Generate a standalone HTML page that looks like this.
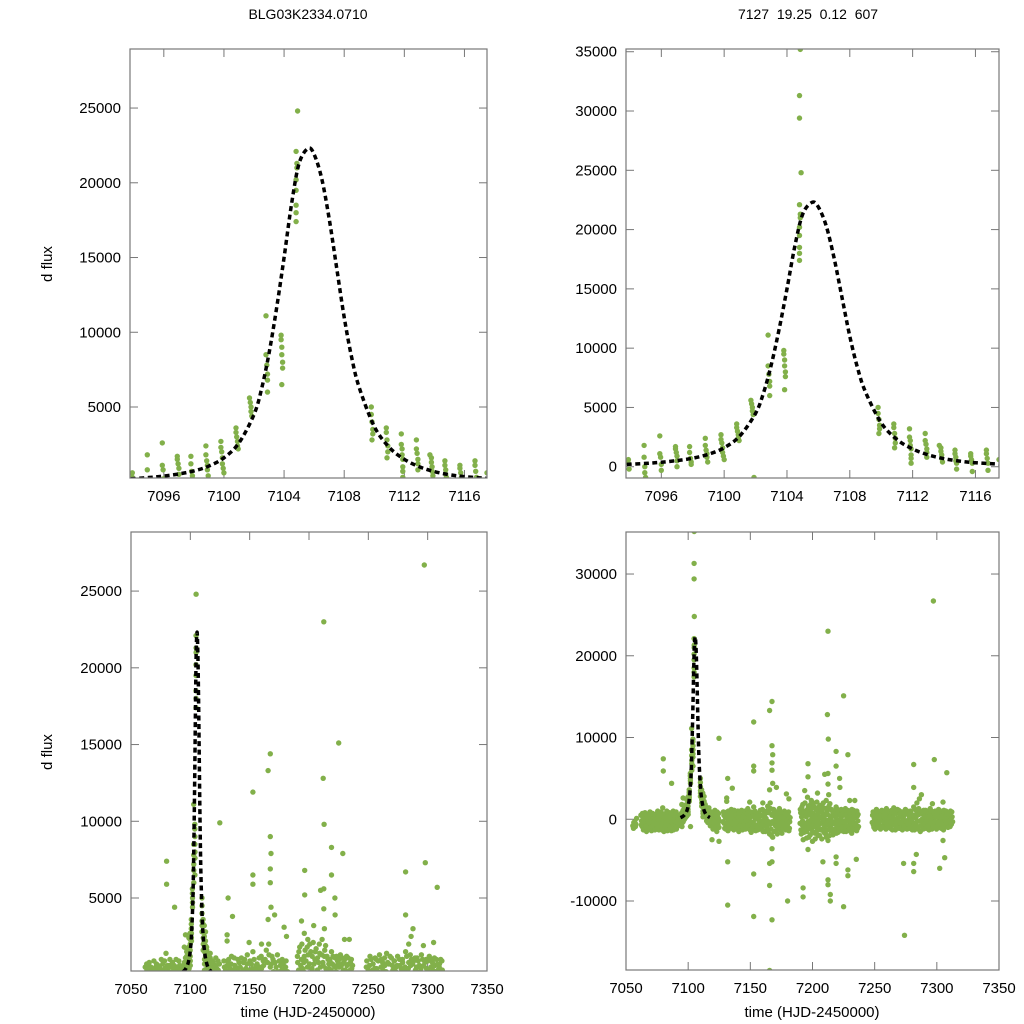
<!DOCTYPE html>
<html><head><meta charset="utf-8"><style>
html,body{margin:0;padding:0;background:#fff;width:1024px;height:1024px;overflow:hidden;}
svg{display:block;font-family:"Liberation Sans",sans-serif;}
</style></head><body>
<svg id="chart" width="1024" height="1024" viewBox="0 0 1024 1024" xmlns="http://www.w3.org/2000/svg">
<rect width="1024" height="1024" fill="#fff"/>
<text x="308" y="19" font-size="14" text-anchor="middle">BLG03K2334.0710</text>
<text x="808" y="19" font-size="14" text-anchor="middle" xml:space="preserve">7127  19.25  0.12  607</text>
<text x="52" y="264" font-size="15" text-anchor="middle" transform="rotate(-90 52 264)">d flux</text>
<text x="52" y="752" font-size="15" text-anchor="middle" transform="rotate(-90 52 752)">d flux</text>
<text x="308" y="1017" font-size="15" text-anchor="middle">time (HJD-2450000)</text>
<text x="812" y="1017" font-size="15" text-anchor="middle">time (HJD-2450000)</text>
</svg>
<script>
// ---- data ----
const zoomTicksX = [7096, 7100, 7104, 7108, 7112, 7116];
const fullTicksX = [7050, 7100, 7150, 7200, 7250, 7300, 7350];
const ticksYTopLeft = [5000, 10000, 15000, 20000, 25000];
const ticksYTopRight = [0, 5000, 10000, 15000, 20000, 25000, 30000, 35000];
const ticksYBotLeft = [5000, 10000, 15000, 20000, 25000];
const ticksYBotRight = [-10000, 0, 10000, 20000, 30000];
const modelT = [7093.8,7095,7096,7097,7098,7099,7100,7101,7102,7102.5,7103,7103.5,7104,7104.5,7105,7105.6,7106,7106.5,7107,7107.5,7108,7108.5,7109,7110,7111,7112,7113,7114,7115,7116,7117.5];
const modelF = [200,280,380,520,720,1050,1600,2600,4500,6200,8600,11600,15000,18600,21300,22300,21900,20300,17600,14300,11000,8300,6300,3700,2300,1500,1000,680,470,340,220];
const peakObs = [
[7093.9,600],[7093.9,300],[7093.95,-200],[7094.9,1800],[7094.9,800],[7094.95,0],[7094.95,-500],[7095,-900],
[7095.9,2600],[7095.9,1100],[7095.95,800],[7096,200],[7096,-300],
[7096.9,1700],[7096.9,1500],[7096.95,1200],[7097,900],[7097,500],[7097,0],
[7097.8,1700],[7097.8,1200],[7097.85,700],[7097.9,400],[7097.9,200],
[7098.8,2400],[7098.8,1800],[7098.85,1400],[7098.9,1100],[7098.9,800],[7098.95,400],
[7099.8,2700],[7099.8,2300],[7099.85,2000],[7099.9,1600],[7099.9,1200],[7099.95,900],[7100,600],
[7100.8,3600],[7100.8,3300],[7100.85,3000],[7100.9,2700],[7100.9,2400],[7100.95,2200],
[7101.7,5600],[7101.75,5300],[7101.8,5000],[7101.8,4700],[7101.85,4400],[7101.9,-900],
[7102.8,11100],[7102.8,8500],[7102.85,7800],[7102.9,7200],[7102.9,6800],[7102.9,6000],
[7103.8,9800],[7103.8,9500],[7103.85,9000],[7103.85,8500],[7103.9,8000],[7103.9,7600],[7103.85,6500],
[7104.85,35200],[7104.8,31300],[7104.8,29400],[7104.9,24800],[7104.8,22100],[7104.85,21300],[7104.85,21000],[7104.8,20200],[7104.8,19500],[7104.8,18500],[7104.8,18000],[7104.8,17400],
[7109.8,5000],[7109.8,4500],[7109.85,4000],[7109.9,3500],[7109.9,3200],[7109.85,2800],
[7110.8,3600],[7110.8,3300],[7110.85,2800],[7110.9,2400],[7110.9,2000],[7110.85,1600],
[7111.8,3200],[7111.8,2500],[7111.85,2200],[7111.85,1800],[7111.9,1500],[7111.9,1000],[7111.9,700],[7111.9,300],
[7112.8,2800],[7112.8,2200],[7112.85,1900],[7112.9,1500],[7112.9,1200],[7112.9,800],
[7113.7,1800],[7113.8,1600],[7113.8,1300],[7113.85,1000],[7113.85,700],[7113.9,400],
[7114.7,1400],[7114.7,1100],[7114.75,800],[7114.75,500],[7114.8,300],[7114.8,-200],
[7115.7,1100],[7115.7,900],[7115.75,600],[7115.8,300],[7115.8,-400],
[7116.7,1400],[7116.7,1100],[7116.75,700],[7116.8,300],[7116.8,-300]];
const bandObs = [
[7055.5,-800],[7056,-1100],[7057,-300],[7058,-600],[7058.5,100],[7062,500],[7062.5,-200],[7063,-900],[7063.5,300],[7064,-1300],[7064.5,600],[7065,-500],[7065.5,-1000],[7066,200],[7066.5,-1500],[7067,-300],[7067.5,400],[7068,-800],[7068.5,-1200],[7069,0],[7069.5,-600],[7070,300],[7070.5,-1400],[7071,-200],[7071.5,700],[7072,-700],[7072.5,-1100],[7073,100],[7073.5,-400],[7074,500],[7074.5,-900],[7075,-200],[7075.5,1000],[7076,-600],[7076.5,-1300],[7077,200],[7077.5,-400],[7078,-800],[7078.5,400],[7079,-100],[7079.5,1400],[7080,-700],[7080.5,-1500],[7081,300],[7081.5,-300],[7082,-1000],[7082.5,600],[7083,-500],[7083.5,100],[7084,-1200],[7084.5,-400],[7085,800],[7085.5,-800],[7086,-100],[7086.5,-1400],[7087,300],[7087.5,-600],[7088,1000],[7088.5,-300],[7089,-1000],[7089.5,200],[7090,-500],[7090.5,-1200],[7091,600],[7091.5,-200],[7092,-800],[7092.5,400],[7093,-400],[7093.5,-100],
[7117.5,600],[7118,-300],[7118.5,900],[7119,-700],[7119.5,200],[7120,-1200],[7120.5,500],[7121,-400],[7121.5,1100],[7122,-900],[7122.5,0],[7123,-1500],[7123.5,300],[7124,-600],[7124.5,700],[7125,-200],
[7128,-300],[7128.7,500],[7129.4,-1100],[7130,200],[7130.7,-600],[7131.4,900],[7132,-1400],[7132.7,-100],[7133.4,400],[7134,-900],[7134.7,1200],[7135.4,-500],[7136,0],[7136.7,-1300],[7137.4,600],[7138,-200],[7138.7,-800],[7139.4,300],[7140,1000],[7140.7,-1500],[7141.4,-400],[7142,500],[7142.7,-1000],[7143.4,100],[7144,-700],[7144.7,800],[7145.4,-300],[7146,-1200],[7146.7,400],[7147.4,-600],[7148,1300],[7148.7,-100],[7149.4,-900],[7150,200],[7150.7,-1600],[7151.4,700],[7152,-400],[7152.7,1500],[7153.4,-1100],[7154,0],[7154.7,-700],[7155.4,600],[7156,-1300],[7156.7,300],[7157.4,-500],[7158,1100],[7158.7,-200],[7159.4,-1000],[7160,400],[7160.7,-600],[7161.4,900],[7162,-1500],[7162.7,100],[7163.4,-800],[7164,1600],[7164.7,-300],[7165.4,-1800],[7166,2000],[7166.7,-1200],[7167.4,500],[7168,-2200],[7168.7,1200],[7169.4,-600],[7170,200],[7170.7,-1400],[7171.4,800],[7172,-300],[7172.7,-1000],[7173.4,1300],[7174,-500],[7174.7,0],[7175.4,-1700],[7176,600],[7176.7,-800],[7177.4,1000],[7178,-200],[7178.7,-1300],[7179.4,400],[7180,-600],[7180.7,900],[7181.4,-1100],[7182,200],
[7190,-500],[7190.5,800],[7191,-1800],[7191.5,1500],[7192,-200],[7192.5,-2500],[7193,600],[7193.5,-1000],[7194,2000],[7194.5,-700],[7195,300],[7195.5,-1500],[7196,1200],[7196.5,-300],[7197,-2200],[7197.5,900],[7198,-600],[7198.5,1800],[7199,-1200],[7199.5,100],[7200,-2700],[7200.5,700],[7201,-400],[7201.5,1500],[7202,-1700],[7202.5,400],[7203,-900],[7203.5,2100],[7204,-100],[7204.5,-2000],[7205,1000],[7205.5,-600],[7206,1700],[7206.5,-1300],[7207,300],[7207.5,-2400],[7208,800],[7208.5,-500],[7209,1400],[7209.5,-1000],[7210,0],[7210.5,-1800],[7211,2300],[7211.5,-300],[7212,600],[7212.5,-2600],[7213,1200],[7213.5,-800],[7214,1900],[7214.5,-1400],[7215,200],[7215.5,-600],[7216,1000],[7216.5,-1900],[7217,400],[7217.5,-300],[7218,800],[7218.5,-1200],[7219,1500],[7219.5,-700],[7220,-100],[7220.5,-1600],[7221,600],[7221.5,-400],[7222,1100],[7222.5,-900],[7223,200],[7223.5,-1400],[7224,900],[7224.5,-200],[7225,-1100],[7225.5,500],[7226,-700],[7226.5,1300],[7227,-1500],[7227.5,0],[7228,700],[7228.5,-900],[7229,300],[7229.5,-1300],[7230,1000],[7230.5,-500],[7231,-100],[7231.5,-1700],[7232,600],[7232.5,-300],[7233,1100],[7233.5,-1000],[7234,200],[7234.5,-600],[7235,800],[7235.5,-1400],[7236,400],[7236.5,-200],[7237,-900],
[7248,-400],[7248.7,900],[7249.4,-1000],[7250,300],[7250.7,-300],[7251.4,1200],[7252,-800],[7252.7,100],[7253.4,-500],[7254,700],[7254.7,-1200],[7255.4,400],[7256,-100],[7256.7,1000],[7257.4,-700],[7258,200],[7258.7,-400],[7259.4,1300],[7260,-900],[7260.7,500],[7261.4,-200],[7262,800],[7262.7,-1100],[7263.4,0],[7264,600],[7264.7,-600],[7265.4,1400],[7266,-300],[7266.7,-1300],[7267.4,700],[7268,100],[7268.7,-800],[7269.4,1100],[7270,-400],[7270.7,300],[7271.4,-1000],[7272,900],[7272.7,-200],[7273.4,500],[7274,-700],[7274.7,1200],[7275.4,-300],[7276,-1200],[7276.7,600],[7277.4,0],[7278,-600],[7278.7,1000],[7279.4,-900],[7280,300],[7280.7,-400],[7281.4,1500],[7282,-1300],[7282.7,200],[7283.4,-500],[7284,800],[7284.7,-1000],[7285.4,1300],[7286,-200],[7286.7,-1500],[7287.4,700],[7288,0],[7288.7,-700],[7289.4,1100],[7290,-300],[7290.7,500],[7291.4,-1100],[7292,900],[7292.7,-400],[7293.4,200],[7294,-900],[7294.7,1300],[7295.4,-200],[7296,-1200],[7296.7,600],[7297.4,100],[7298,-600],[7298.7,1000],[7299.4,-800],[7300,300],[7300.7,-300],[7301.4,1200],[7302,-1000],[7302.7,500],[7303.4,-500],[7304,800],[7304.7,-100],[7305.4,-1300],[7306,600],[7306.7,-200],[7307.4,1000],[7308,-700],[7308.7,300],[7309.4,-400],[7310,700],[7310.7,-900],[7311.4,200],[7312,900],[7312.7,-300]];
const bandObs2 = [
[7056.3,-400],[7057.6,-900],[7062.3,-700],[7063.2,700],[7063.8,-300],[7064.8,0],[7065.3,800],[7066.2,-900],[7066.8,500],[7067.3,-1100],[7067.8,-100],[7068.3,300],[7068.8,-400],[7069.3,900],[7069.8,-1000],[7070.3,-200],[7070.8,500],[7071.3,-900],[7071.8,100],[7072.3,-300],[7072.8,600],[7073.3,-1300],[7073.8,300],[7074.3,-600],[7074.8,100],[7075.3,-1100],[7075.8,300],[7076.3,-100],[7076.8,700],[7077.3,-900],[7077.8,-200],[7078.3,900],[7078.8,-1300],[7079.3,-500],[7079.8,400],[7080.3,-100],[7080.8,600],[7081.3,-900],[7081.8,200],[7082.3,-500],[7082.8,1000],[7083.3,-1400],[7083.8,-100],[7084.3,500],[7084.8,-800],[7085.3,200],[7085.8,-1200],[7086.3,600],[7086.8,-300],[7087.3,-900],[7087.8,200],[7088.3,-1300],[7088.8,500],[7089.3,-200],[7089.8,-700],[7090.3,900],[7090.8,-300],[7091.3,-900],[7091.8,300],[7092.3,-100],[7092.8,-600],[7093.3,500],
[7117.8,-800],[7118.3,300],[7118.8,-200],[7119.3,800],[7119.8,-900],[7120.3,100],[7120.8,-500],[7121.3,600],[7121.8,-1100],[7122.3,400],[7122.8,-300],[7123.3,900],[7123.8,-800],[7124.3,100],[7124.8,-1000],
[7128.3,900],[7129,-500],[7129.7,300],[7130.3,-1200],[7131,600],[7131.7,-300],[7132.3,1000],[7133,-900],[7133.7,-300],[7134.3,700],[7135,-1100],[7135.7,300],[7136.3,-600],[7137,1100],[7137.7,-1000],[7138.3,500],[7139,-400],[7139.7,-1200],[7140.3,200],[7141,800],[7141.7,-800],[7142.3,-100],[7143,1100],[7143.7,-1300],[7144.3,300],[7145,-500],[7145.7,1000],[7146.3,-200],[7147,-1000],[7147.7,700],[7148.3,-700],[7149,300],[7149.7,-1300],[7150.3,900],[7151,-400],[7151.7,-1100],[7152.3,400],[7153,-600],[7153.7,1000],[7154.3,-1400],[7155,300],[7155.7,-900],[7156.3,700],[7157,-100],[7157.7,-1200],[7158.3,500],[7159,-700],[7159.7,1200],[7160.3,-1500],[7161,-200],[7161.7,600],[7162.3,-900],[7163,1000],[7163.7,-400],[7164.3,-1300],[7165,800],[7165.7,-600],[7166.3,1300],[7167,-2000],[7167.7,-300],[7168.3,700],[7169,-1500],[7169.7,1000],[7170.3,-800],[7171,-200],[7171.7,-1800],[7172.3,500],[7173,-700],[7173.7,200],[7174.3,-1300],[7175,900],[7175.7,-400],[7176.3,-1100],[7177,300],[7177.7,-800],[7178.3,700],[7179,-1000],[7179.7,-100],[7180.3,500],[7181,-1400],[7181.7,-300],
[7190.2,1200],[7190.7,-1300],[7191.2,300],[7191.7,-700],[7192.2,1800],[7192.7,-400],[7193.2,-1600],[7193.7,1000],[7194.2,-1200],[7194.7,400],[7195.2,-2300],[7195.7,800],[7196.2,-500],[7196.7,1600],[7197.2,-1100],[7197.7,-200],[7198.2,-1900],[7198.7,500],[7199.2,1300],[7199.7,-800],[7200.2,-1500],[7200.7,2000],[7201.2,-900],[7201.7,100],[7202.2,-2400],[7202.7,1200],[7203.2,-300],[7203.7,-1400],[7204.2,700],[7204.7,-800],[7205.2,1500],[7205.7,-2000],[7206.2,200],[7206.7,-500],[7207.2,1100],[7207.7,-1200],[7208.2,-200],[7208.7,2000],[7209.2,-1600],[7209.7,500],[7210.2,-700],[7210.7,1300],[7211.2,-2200],[7211.7,800],[7212.2,-1300],[7212.7,-100],[7213.2,1600],[7213.7,-2000],[7214.2,400],[7214.7,-600],[7215.2,1200],[7215.7,-1200],[7216.2,-300],[7216.7,700],[7217.2,-1500],[7217.7,1000],[7218.2,-600],[7218.7,300],[7219.2,-1700],[7219.7,700],[7220.2,1200],[7220.7,-900],[7221.2,-300],[7221.7,-1400],[7222.2,500],[7222.7,-600],[7223.2,1200],[7223.7,-1000],[7224.2,-300],[7224.7,700],[7225.2,-1500],[7225.7,1000],[7226.2,-400],[7226.7,-1100],[7227.2,600],[7227.7,-800],[7228.2,1100],[7228.7,-1400],[7229.2,-200],[7229.7,800],[7230.2,-1100],[7230.7,300],[7231.2,-600],[7231.7,1200],[7232.2,-1300],[7232.7,100],[7233.2,-500],[7233.7,700],[7234.2,-1200],[7234.7,300],[7235.2,-800],[7235.7,1000],[7236.2,-1100],[7236.7,600],
[7248.3,500],[7249,-700],[7249.7,100],[7250.3,-1200],[7251,600],[7251.7,-500],[7252.3,1000],[7253,-1000],[7253.7,300],[7254.3,-200],[7255,-800],[7255.7,1100],[7256.3,-1000],[7257,400],[7257.7,-300],[7258.3,900],[7259,-1200],[7259.7,0],[7260.3,-500],[7261,1000],[7261.7,-800],[7262.3,300],[7263,-400],[7263.7,1100],[7264.3,-1300],[7265,200],[7265.7,-700],[7266.3,800],[7267,-400],[7267.7,-1000],[7268.3,1200],[7269,-200],[7269.7,-1100],[7270.3,600],[7271,-500],[7271.7,900],[7272.3,-1300],[7273,200],[7273.7,-900],[7274.3,600],[7275,-200],[7275.7,-1000],[7276.3,1000],[7277,-600],[7277.7,400],[7278.3,-1100],[7279,800],[7279.7,-200],[7280.3,-1300],[7281,500],[7281.7,-600],[7282.3,1200],[7283,-900],[7283.7,400],[7284.3,-200],[7285,-1200],[7285.7,600],[7286.3,1000],[7287,-800],[7287.7,-200],[7288.3,900],[7289,-1200],[7289.7,300],[7290.3,-600],[7291,1100],[7291.7,-200],[7292.3,-900],[7293,600],[7293.7,-1300],[7294.3,400],[7295,-500],[7295.7,1000],[7296.3,-100],[7297,-900],[7297.7,800],[7298.3,-300],[7299,400],[7299.7,-1200],[7300.3,900],[7301,-600],[7301.7,100],[7302.3,-300],[7303,1000],[7303.7,-1100],[7304.3,300],[7305,-700],[7305.7,1100],[7306.3,-1000],[7307,200],[7307.7,-400],[7308.3,700],[7309,-1000],[7309.7,500],[7310.3,-200],[7311,1000],[7311.7,-600],[7312.3,300]];
const outlierObs = [
[7212.5,23000],[7297.2,26700],[7225,15100],[7212,12800],[7212.7,9800],[7152.7,11900],[7165.5,13300],[7167.4,14400],[7167.4,9000],[7168,7900],[7167.4,6900],[7167.4,6000],[7124.8,9900],[7080,7400],[7080,5900],[7086.7,4400],[7152.7,6500],[7152.7,5900],[7131.8,5000],[7219,8300],[7219,6500],[7228.5,7900],[7196.4,6800],[7196.4,5200],[7281.4,6700],[7281.4,3900],[7298,7300],[7308,5700],[7209.8,5500],[7212.5,5600],[7212.5,4300],[7221.8,5000],[7222,3900],
[7131.8,-5200],[7131.8,-10500],[7152.7,-6700],[7152.7,-11900],[7165.5,-5400],[7165.5,-8100],[7167.4,-12300],[7165.5,-18500],[7167.4,-3600],[7167.4,-5200],[7180,-10000],[7192.4,-8400],[7192.4,-9500],[7196.4,-3700],[7208.4,-5200],[7212.5,-7400],[7212.5,-8000],[7214.3,-9200],[7214.3,-10000],[7219,-4600],[7219,-5400],[7225,-10700],[7228.5,-6200],[7228.5,-6900],[7235.2,-4900],[7274,-14200],[7273.3,-5400],[7281.4,-5400],[7281.4,-6400],[7283.5,-4300],[7302.3,-6000],[7306.3,-4700],[7305,-2600],[7119.2,-2500],[7124.8,-2700],
[7135.5,3800],[7179,3100],[7181,2500],[7193.7,3500],[7204,3200],[7213,3000],[7229.9,2300],[7234,2300],[7287.6,3000],[7296.4,1900],[7305,2100],[7165.5,3600],[7171,3900],[7168,4400],[7160,2000],[7149.5,2100],[7131,2600],[7131,2200],[7196,2700],[7199,2300],[7286,2500],[7284,2000]];

// ---- drawing ----
const NS = 'http://www.w3.org/2000/svg';
const svg = document.getElementById('chart');
const allObs = peakObs.concat(bandObs, bandObs2, outlierObs);
let clipN = 0;
function mk(tag, attrs, parent) {
  const e = document.createElementNS(NS, tag);
  for (const k in attrs) e.setAttribute(k, attrs[k]);
  parent.appendChild(e);
  return e;
}
function panel(name, box, xd, yd, xticks, yticks) {
  const g = mk('g', {}, svg);
  
  
  const xs = v => box.x0 + (v - xd[0]) / (xd[1] - xd[0]) * (box.x1 - box.x0);
  const ys = v => box.y1 - (v - yd[0]) / (yd[1] - yd[0]) * (box.y1 - box.y0);
  const id = 'clip' + (clipN++);
  const cp = mk('clipPath', {id: id}, g);
  mk('rect', {x: box.x0, y: box.y0, width: box.x1 - box.x0, height: box.y1 - box.y0}, cp);
  const ax = mk('g', {stroke: '#777', 'stroke-width': 1}, g);
  
  
  xticks.forEach(v => {
    const x = xs(v);
    if (x > box.x0 + 1 && x < box.x1 - 1) {
      mk('line', {x1: x, x2: x, y1: box.y1, y2: box.y1 - 8}, ax);
      mk('line', {x1: x, x2: x, y1: box.y0, y2: box.y0 + 8}, ax);
    }
    const t = mk('text', {x: x, y: box.y1 + 23, 'font-size': 15, 'text-anchor': 'middle', fill: '#000', stroke: 'none'}, g);
    
    
    t.textContent = v;
  });
  yticks.forEach(v => {
    const y = ys(v);
    mk('line', {x1: box.x0, x2: box.x0 + 8, y1: y, y2: y}, ax);
    mk('line', {x1: box.x1, x2: box.x1 - 8, y1: y, y2: y}, ax);
    const t = mk('text', {x: box.x0 - 9, y: y + 5, 'font-size': 15, 'text-anchor': 'end', fill: '#000'}, g);
    
    
    t.textContent = v;
  });
  const pg = mk('g', {'clip-path': 'url(#' + id + ')', fill: '#82b04a'}, g);
  
  
  allObs.forEach(p => {
    const c = mk('circle', {cx: xs(p[0]).toFixed(1), cy: ys(p[1]).toFixed(1), r: 2.7}, pg);
    
    
  });
  const P = modelT.map((t, i) => [xs(t), ys(modelF[i])]);
  let d = 'M' + P[0][0] + ',' + P[0][1];
  for (let i = 0; i < P.length - 1; i++) {
    const p0 = P[Math.max(0, i - 1)], p1 = P[i], p2 = P[i + 1], p3 = P[Math.min(P.length - 1, i + 2)];
    const c1 = [p1[0] + (p2[0] - p0[0]) / 6, p1[1] + (p2[1] - p0[1]) / 6];
    const c2 = [p2[0] - (p3[0] - p1[0]) / 6, p2[1] - (p3[1] - p1[1]) / 6];
    d += ' C' + c1.join(',') + ' ' + c2.join(',') + ' ' + p2.join(',');
  }
  const m = mk('path', {d: d, fill: 'none', stroke: '#000', 'stroke-width': 3.5, 'stroke-dasharray': '5,3.5', 'clip-path': 'url(#' + id + ')'}, g);
  
  
  const fr = mk('rect', {x: box.x0, y: box.y0, width: box.x1 - box.x0, height: box.y1 - box.y0, fill: 'none', stroke: '#777', 'stroke-width': 1.2}, g);
  
  
}
panel('panel-zoom-left', {x0: 130, x1: 487, y0: 49, y1: 478}, [7093.75, 7117.5], [250, 28950], zoomTicksX, ticksYTopLeft);
panel('panel-zoom-right', {x0: 626, x1: 999, y0: 49, y1: 478}, [7093.75, 7117.5], [-950, 35230], zoomTicksX, ticksYTopRight);
panel('panel-full-left', {x0: 131, x1: 487, y0: 532, y1: 971}, [7050, 7350], [244, 28850], fullTicksX, ticksYBotLeft);
panel('panel-full-right', {x0: 626, x1: 999, y0: 532, y1: 970}, [7050, 7350], [-18440, 35140], fullTicksX, ticksYBotRight);
</script>
</body></html>
